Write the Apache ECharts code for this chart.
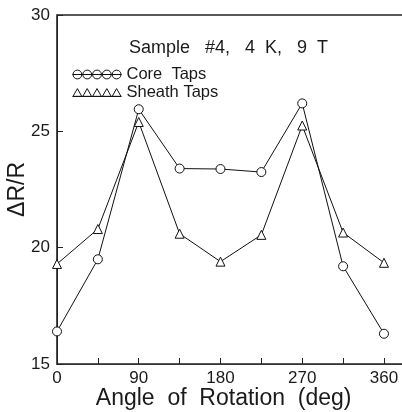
<!DOCTYPE html>
<html>
<head>
<meta charset="utf-8">
<script src="https://cdn.jsdelivr.net/npm/echarts@6/dist/echarts.min.js"></script>
<style>
  html, body { margin: 0; padding: 0; background: #fff; }
  #chart { width: 402px; height: 412px; }
</style>
</head>
<body>
<div id="chart"></div>
<script>
// Rotation angles (deg) and magnetoresistance for the two tap pairs
const angles = [0, 45, 90, 135, 180, 225, 270, 315, 360];
const coreTaps = [16.4, 19.5, 25.95, 23.4, 23.38, 23.25, 26.2, 19.2, 16.3];
const sheathTaps = [19.3, 20.8, 25.4, 20.6, 19.4, 20.55, 25.25, 20.65, 19.35];
const yTicks = [15, 20, 25, 30];
const xLabelTicks = [0, 90, 180, 270, 360];

const FONT = 'Liberation Sans';
const INK = '#1a1a1a';

// Legend glyphs: a row of five markers joined by a line
const circleRow = 'path://M0,5L50,5' +
  [5, 15, 25, 35, 45].map(c =>
    `M${c + 4.5},5A4.5,4.5 0 1 1 ${c - 4.5},5A4.5,4.5 0 1 1 ${c + 4.5},5`).join('');
const triangleRow = 'path://M0,9L50,9' +
  [5, 15, 25, 35, 45].map(c =>
    `M${c - 4.5},9L${c},1L${c + 4.5},9Z`).join('');

const chart = echarts.init(document.getElementById('chart'), null, { renderer: 'canvas' });

const toPairs = vals => angles.map((a, i) => [a, vals[i]]);

chart.setOption({
  animation: false,
  backgroundColor: '#fff',
  title: {
    text: 'Sample   #4,   4  K,   9  T',
    left: 124,
    top: 34,
    textStyle: { fontFamily: FONT, fontSize: 18, fontWeight: 'normal', color: INK }
  },
  legend: {
    left: 65,
    top: 61,
    orient: 'vertical',
    itemWidth: 49,
    itemHeight: 10,
    itemGap: 1,
    textStyle: { fontFamily: FONT, fontSize: 16.5, color: INK },
    itemStyle: { color: 'none', borderColor: '#111', borderWidth: 1 },
    data: [
      { name: 'Core  Taps', icon: circleRow },
      { name: 'Sheath Taps', icon: triangleRow }
    ]
  },
  grid: {
    left: 57,
    top: 15,
    bottom: 48,
    right: -18.3,
    containLabel: false,
    outerBoundsMode: 'none',
    show: true,
    borderColor: '#222',
    borderWidth: 1.6
  },
  xAxis: {
    type: 'value',
    min: 0,
    max: 400,
    interval: 45,
    name: 'Angle  of  Rotation  (deg)',
    nameLocation: 'middle',
    nameMoveOverlap: false,
    nameGap: 23,
    nameTextStyle: { fontFamily: FONT, fontSize: 23, color: INK, padding: [0, 30, 0, 0] },
    axisLine: { show: true, lineStyle: { color: '#333', width: 1 } },
    axisTick: { show: true, inside: true, length: 6, lineStyle: { color: '#222' } },
    axisLabel: {
      fontFamily: FONT, fontSize: 17, color: INK, margin: 6,
      formatter: v => (xLabelTicks.includes(v) ? String(v) : '')
    },
    splitLine: { show: false }
  },
  yAxis: {
    type: 'value',
    min: yTicks[0],
    max: yTicks[yTicks.length - 1],
    interval: 5,
    name: 'ΔR/R',
    nameLocation: 'middle',
    nameMoveOverlap: false,
    nameGap: 28,
    nameRotate: 90,
    nameTextStyle: { fontFamily: FONT, fontSize: 23, color: INK },
    axisLine: { show: true, lineStyle: { color: '#222', width: 1 } },
    axisTick: { show: true, inside: true, length: 6, lineStyle: { color: '#222' } },
    axisLabel: { fontFamily: FONT, fontSize: 17, color: INK, margin: 7 },
    splitLine: { show: false }
  },
  series: [
    {
      name: 'Core  Taps',
      type: 'line',
      data: toPairs(coreTaps),
      symbol: 'circle',
      symbolSize: 9,
      showAllSymbol: true,
      lineStyle: { color: '#111', width: 1 },
      itemStyle: { color: '#fff', borderColor: '#111', borderWidth: 1 }
    },
    {
      name: 'Sheath Taps',
      type: 'line',
      data: toPairs(sheathTaps),
      symbol: 'triangle',
      symbolSize: 9,
      showAllSymbol: true,
      lineStyle: { color: '#111', width: 1 },
      itemStyle: { color: '#fff', borderColor: '#111', borderWidth: 1 }
    }
  ]
});
</script>
</body>
</html>
